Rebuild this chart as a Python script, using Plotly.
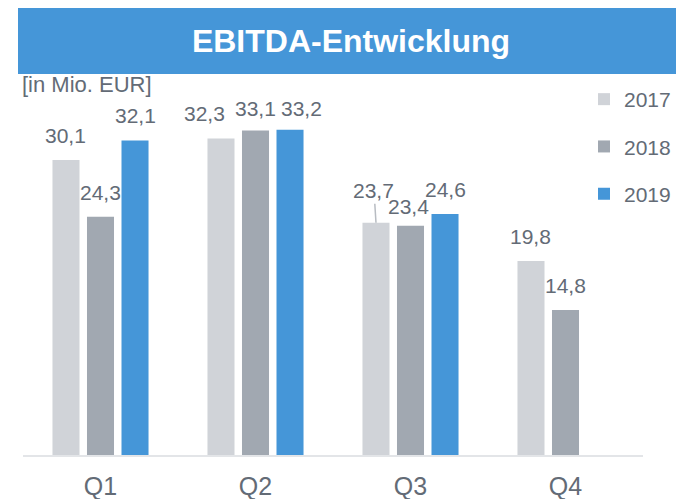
import plotly.graph_objects as go

quarters = ["Q1", "Q2", "Q3", "Q4"]
years = ["2017", "2018", "2019"]
values_2017 = [30.1, 32.3, 23.7, 19.8]
values_2018 = [24.3, 33.1, 23.4, 14.8]
values_2019 = [32.1, 33.2, 24.6, None]
series_values = [values_2017, values_2018, values_2019]
colors = ["#d0d3d8", "#a1a8b1", "#4596d8"]
text_color = "#636b76"
font_family = "Liberation Sans, Arial, sans-serif"

# label placement tweaks (px) to keep crowded value labels apart, as in the original
label_dx = {("Q2", "2017"): -16, ("Q2", "2019"): 11, ("Q3", "2018"): -2}
label_dy = {("Q3", "2018"): -5, ("Q2", "2018"): -2, ("Q2", "2019"): -3}

# page offset of the figure (body margin) and target geometry in window px
OFF = 8
VW, VH = 684, 499
W, H = VW - OFF, VH - OFF
plot_x0, plot_x1, plot_y0, plot_y1 = 23, 643, 75, 455   # window px
L, R = plot_x0 - OFF, W - (plot_x1 - OFF)
T, B = plot_y0 - OFF, H - (plot_y1 - OFF)
pw, ph = W - L - R, H - T - B


def px_x(x):  # window px -> paper
    return (x - plot_x0) / pw


def px_y(y):
    return (plot_y1 - y) / ph


slot_px = pw / len(quarters) * (1 - 0.332) / 3

fig = go.Figure()
for i, (yr, vals, col) in enumerate(zip(years, series_values, colors)):
    fig.add_trace(go.Bar(
        x=quarters, y=vals, name=yr, marker_color=col,
        marker_line_width=0, legendgroup=yr,
    ))
    for q, v in zip(quarters, vals):
        if v is None:
            continue
        label = f"{v:.1f}".replace(".", ",")
        leader = (q == "Q3" and yr == "2017")
        fig.add_annotation(
            x=q, y=v, xref="x", yref="y", text=label,
            xshift=(i - 1) * slot_px + label_dx.get((q, yr), 0),
            showarrow=leader, arrowhead=0, arrowwidth=1.5, arrowcolor="#b8bcc2",
            ax=-2 if leader else 0, ay=-32 if leader else 0,
            yanchor="middle" if leader else "bottom",
            yshift=0 if leader else 11 + label_dy.get((q, yr), 0),
            font=dict(size=21, color=text_color, family=font_family),
        )

fig.add_shape(type="rect", xref="paper", yref="paper",
              x0=px_x(18), x1=px_x(VW + 2),
              y0=px_y(74), y1=px_y(0),
              fillcolor="#4596d8", line_width=0, layer="below")

fig.add_annotation(xref="paper", yref="paper", x=px_x(20), y=px_y(85),
                   xanchor="left", yanchor="middle", showarrow=False,
                   text="[in Mio. EUR]",
                   font=dict(size=22, color=text_color, family=font_family))

fig.update_layout(
    width=W, height=H,
    margin=dict(l=L, r=R, t=T, b=B, autoexpand=False),
    paper_bgcolor="white", plot_bgcolor="white",
    separators=",.",
    title=dict(text="<b>EBITDA-Entwicklung</b>", x=(351 - OFF) / W, xanchor="center",
               y=1 - (41 - OFF) / H, yanchor="middle", xref="container", yref="container",
               font=dict(size=32, color="white", family=font_family)),
    barmode="group", bargap=0.332, bargroupgap=0.217,
    showlegend=True,
    legend=dict(x=px_x(584), xanchor="left", y=px_y(79), yanchor="top",
                font=dict(size=21, color=text_color, family=font_family),
                tracegroupgap=17, bgcolor="rgba(0,0,0,0)", itemwidth=30),
    xaxis=dict(showline=True, linecolor="#e3e5e8", linewidth=2, ticks="",
               showgrid=False, ticklabelstandoff=8, automargin=False,
               tickfont=dict(size=25, color=text_color, family=font_family)),
    yaxis=dict(range=[0, ph / 9.8], visible=False, showgrid=False, zeroline=False,
               automargin=False),
)

fig.write_html("out.html")
